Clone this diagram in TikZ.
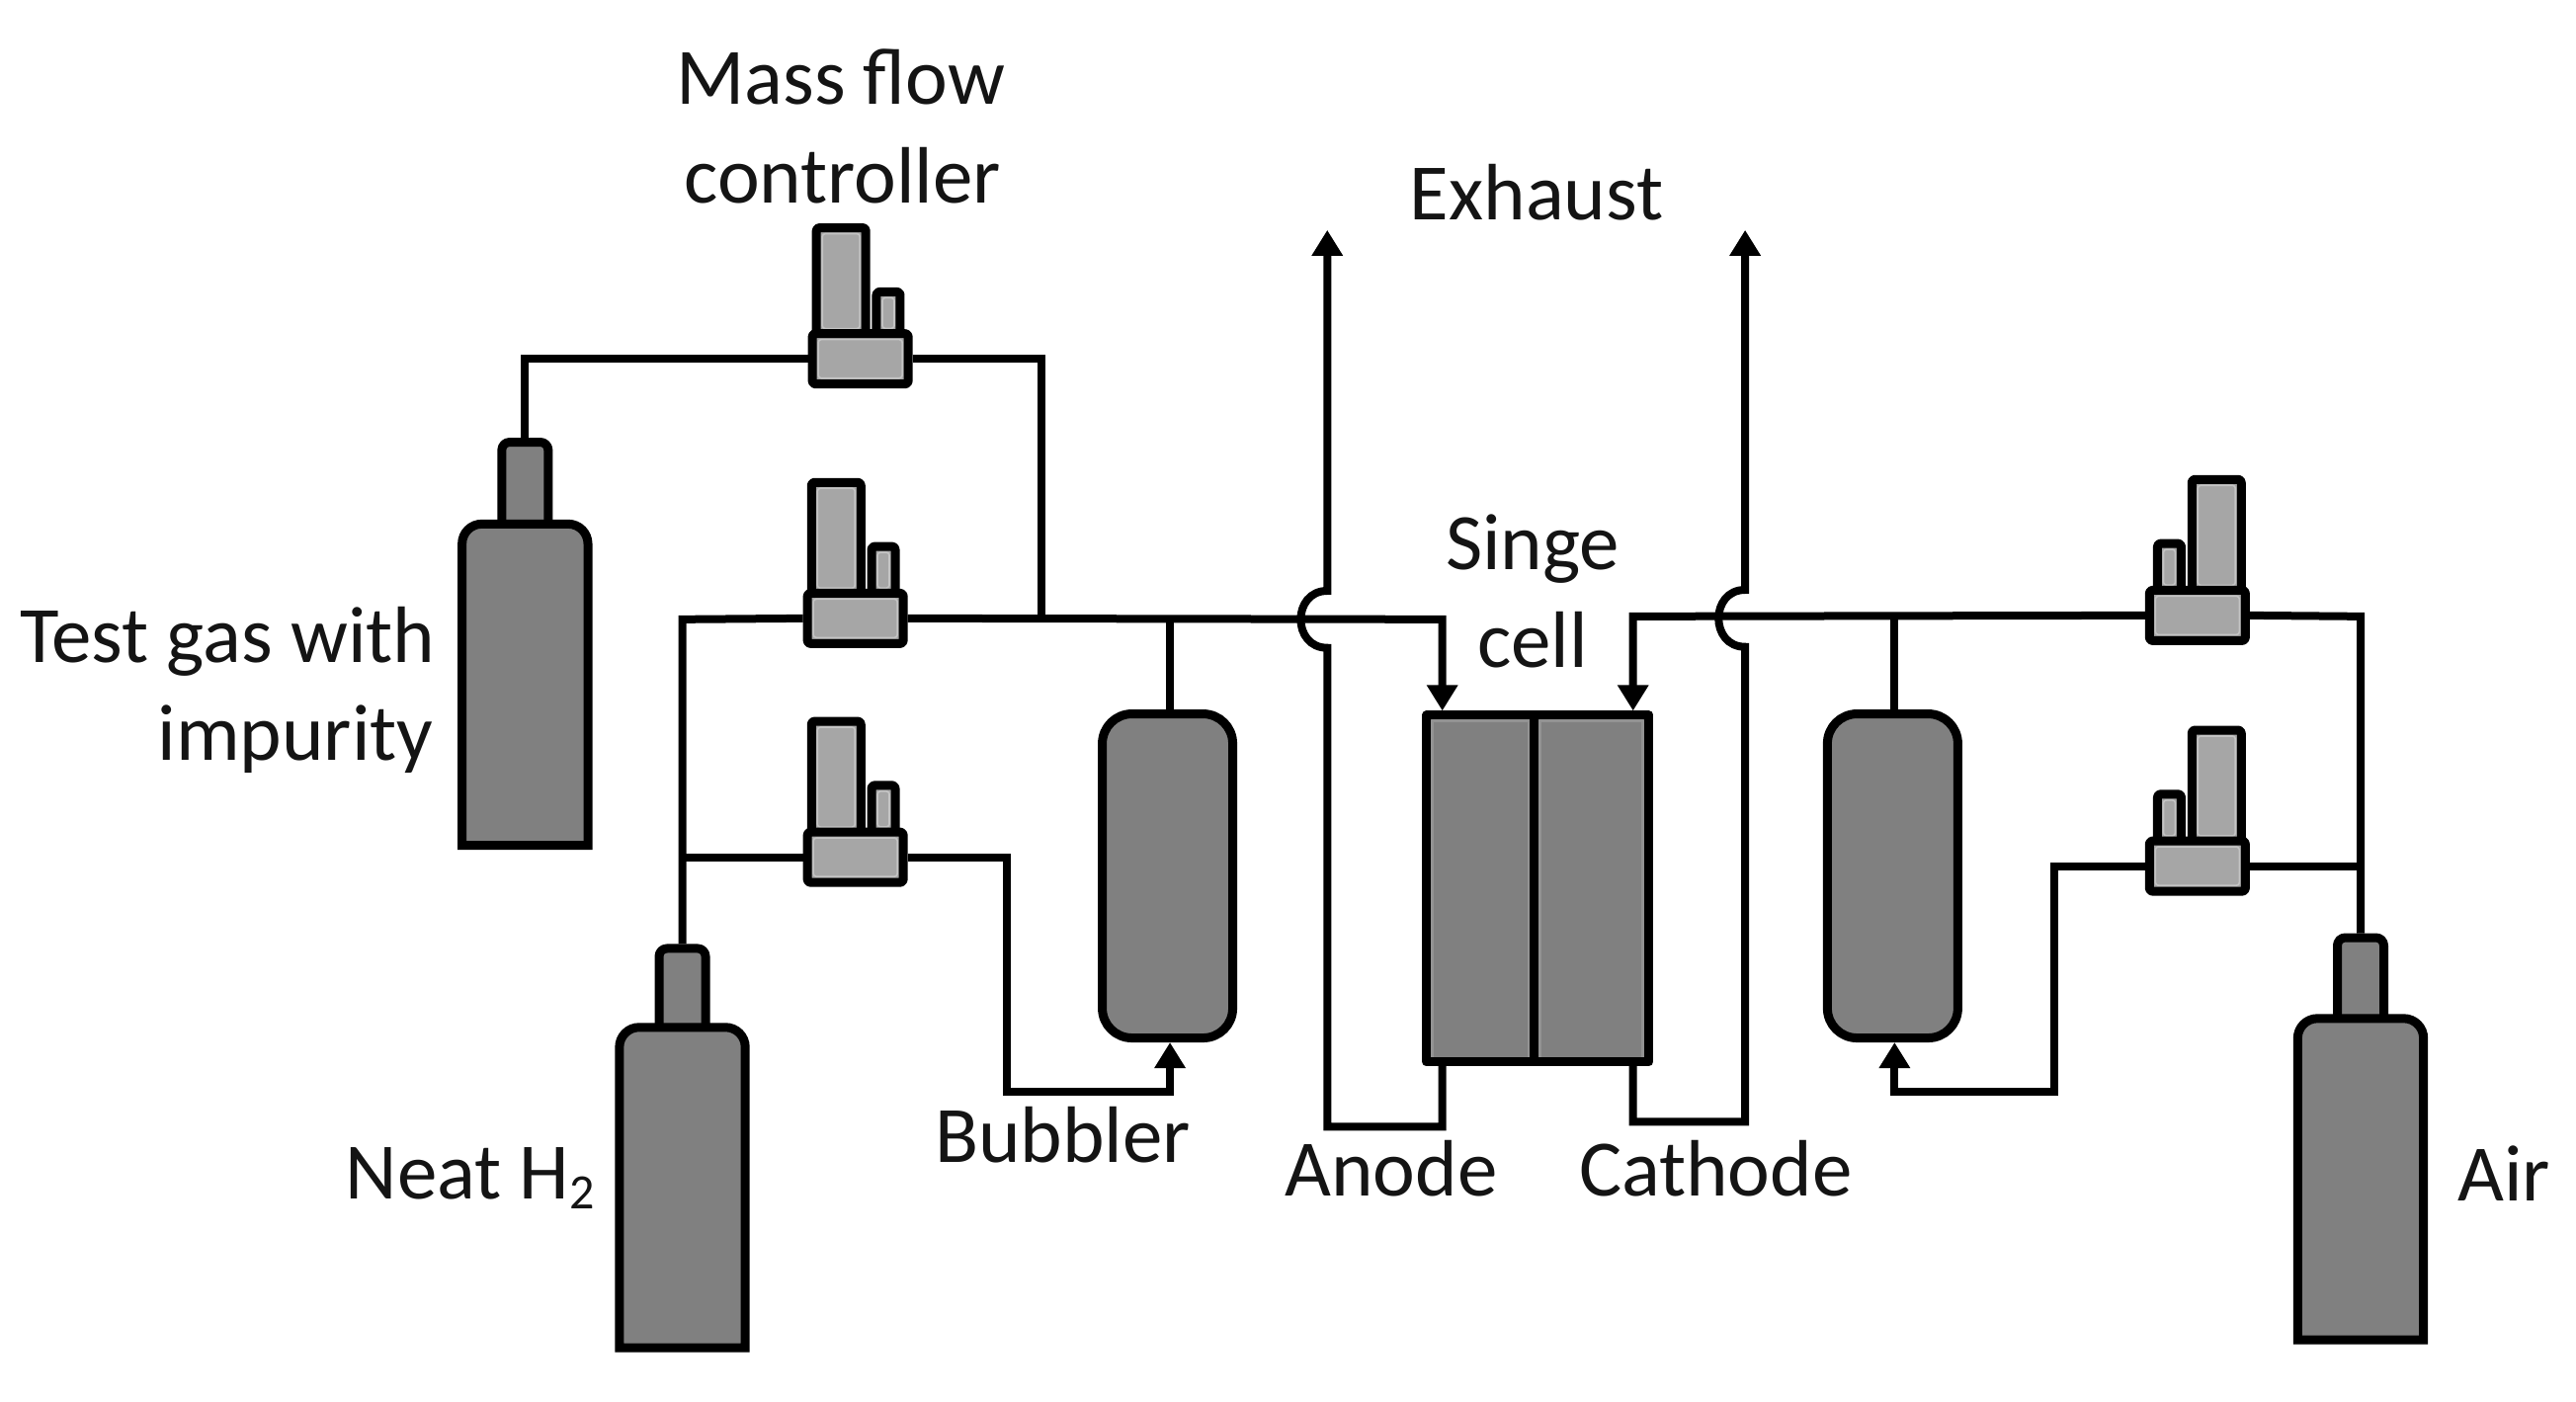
\documentclass[tikz,border=0pt]{standalone}
\usepackage{fontspec}
\setmainfont{Carlito}
\usetikzlibrary{arrows.meta,calc}
\definecolor{dk}{HTML}{808080}
\definecolor{lt}{HTML}{A6A6A6}
\definecolor{dkhi}{HTML}{939393}
\definecolor{lthi}{HTML}{C4C4C4}
\tikzset{
  x=0.995pt,y=-0.995pt,
  dev/.style={draw=black,line width=9pt,line join=round,inner sep=0pt,outer sep=4.5pt,rounded corners=3pt},
  darkdev/.style={dev,fill=dk},
  lightdev/.style={dev,fill=lt},
  glowl/.style={path picture={\draw[lthi,line width=1.6pt]
     ($(path picture bounding box.south west)+(6,-6)$) rectangle ($(path picture bounding box.north east)+(-6,6)$);}},
  glowd/.style={path picture={\draw[dkhi,line width=3pt]
     ($(path picture bounding box.south west)+(6,20)$) rectangle ($(path picture bounding box.north east)+(-6,6)$);}},
  pipe/.style={draw=black,line width=8pt,line join=miter},
  flow/.style={pipe,-{Triangle[length=26pt,width=30pt]}},
  lab/.style={inner sep=0pt,text=black!92,font=\fontsize{81}{96}\selectfont},
}
% #1 name, #2 x, #3 y, #4 side of the tall box (+1 normal, -1 mirrored), #5 extra height
\newcommand{\mfcunit}[5]{%
  \node[lightdev,glowl,minimum width=50pt,minimum height={108+#5}] (#1t) at ({#2+#4*(-19.5)},{#3-79-#5/2}) {};
  \node[lightdev,glowl,minimum width=24pt,minimum height={43+#5}] (#1s) at ({#2+#4*28.5},{#3-46.5-#5/2}) {};
  \node[lightdev,glowl,minimum width=97pt,minimum height=51pt] (#1) at (#2,#3) {};
}
% #1 name, #2 cx, #3 body top, #4 body bottom, #5 neck top
\newcommand{\bottleunit}[5]{%
  \node[darkdev,rounded corners=8pt,minimum width=47pt] (#1n) at (#2,{(#3+#5)/2+5}) [minimum height={#3-#5+10}] {};
  \draw[draw=black,fill=dk,line width=9pt,rounded corners=20pt]
    ({#2-64},#4) [sharp corners] -- ({#2-64},{#4-40}) [rounded corners=20pt] -- ({#2-64},#3) -- ({#2+64},#3) -- ({#2+64},{#4-40}) [sharp corners] -- ({#2+64},#4) -- cycle;
}
\begin{document}
\begin{tikzpicture}
\useasboundingbox (0,0) rectangle (2620.1,1426.1);
% devices
\mfcunit{mfcA}{875}{365}{1}{0}
\mfcunit{mfcB}{870}{629}{1}{5}
\mfcunit{mfcC}{870}{872}{1}{5}
\mfcunit{mfcD}{2235}{626}{-1}{5}
\mfcunit{mfcE}{2235}{881}{-1}{5}
\bottleunit{test}{534}{533}{860}{450}
\bottleunit{neat}{694}{1045}{1371}{965}
\bottleunit{air}{2401}{1036}{1363}{954}
\node[darkdev,rounded corners=30pt,minimum width=132pt,minimum height=328pt] (bubL) at (1187.5,891) {};
\node[darkdev,rounded corners=30pt,minimum width=132pt,minimum height=328pt] (bubR) at (1925,891) {};
\node[darkdev,sharp corners,glowd,minimum width=109.5pt,minimum height=351pt] (cellA) at (1506,904) {};
\node[darkdev,sharp corners,glowd,minimum width=116pt,minimum height=351pt] (cellC) at (1619,904) {};
% junction points
\coordinate (tl) at (534,365);
\coordinate (tr) at (1059,365);
\coordinate (tj) at (1059,630);
\coordinate (lj) at (694,630);
\coordinate (lb) at (694,872);
\coordinate (c1) at (1024,872);
\coordinate (c2) at (1024,1111);
\coordinate (c3) at (1190,1111);
\coordinate (bl) at (1190,630);
\coordinate (ain) at (1467,630);
\coordinate (aint) at (1467,723);
\coordinate (cin) at (1661,627);
\coordinate (cint) at (1661,723);
\coordinate (jrA) at (1350,601);
\coordinate (jrB) at (1350,659);
\coordinate (exA) at (1350,234);
\coordinate (anB) at (1350,1146);
\coordinate (anC) at (1467,1146);
\coordinate (anD) at (1467,1082);
\coordinate (jcA) at (1775,600);
\coordinate (jcB) at (1775,658);
\coordinate (exC) at (1775,234);
\coordinate (caB) at (1775,1141);
\coordinate (caC) at (1661,1141);
\coordinate (caD) at (1661,1082);
\coordinate (rt) at (1927,627);
\coordinate (rbb) at (1927,1111);
\coordinate (e1) at (2089,1111);
\coordinate (e2) at (2089,881);
\coordinate (ar) at (2401,627);
\coordinate (arb) at (2401,881);
% connectors
\draw[pipe] (testn.north) -- (tl) -- (mfcA.west);
\draw[pipe] (mfcA.east) -- (tr) -- (tj);
\draw[pipe] (neatn.north) -- (lj) -- (mfcB.west);
\draw[pipe] (lb) -- (mfcC.west);
\draw[flow] (mfcC.east) -- (c1) -- (c2) -- (c3) -- (bubL.south -| c3);
\draw[pipe] (bl) -- (bubL.north -| bl);
\draw[flow] (mfcB.east) -- (ain) -- (aint);
\draw[flow] (mfcD.west) -- (cin) -- (cint);
\draw[pipe] (rt) -- (bubR.north -| rt);
\draw[flow] (mfcE.west) -- (e2) -- (e1) -- (rbb) -- (bubR.south -| rbb);
\draw[pipe] (mfcD.east) -- (ar) -- (airn.north);
\draw[pipe] (mfcE.east) -- (arb);
\draw[flow] (anD) -- (anC) -- (anB) -- (jrB) .. controls (1314,659) and (1314,601) .. (jrA) -- (exA);
\draw[flow] (caD) -- (caC) -- (caB) -- (jcB) .. controls (1739,658) and (1739,600) .. (jcA) -- (exC);
% labels
\node[lab] (l1) at (855,78) {Mass flow};
\node[lab] (l2) at (857,179) {controller};
\node[lab] (l3) at (1563,196) {Exhaust};
\node[lab] (l4) at (1559,558) {Singe};
\node[lab] (l5) at (1559,651) {cell};
\node[lab,anchor=east] (l6) at (443,653) {Test gas with};
\node[lab,anchor=east] (l7) at (441,752) {impurity};
\node[lab,anchor=east] (l8) at (605,1198) {Neat H\raisebox{-10pt}{\fontsize{50}{50}\selectfont 2}};
\node[lab] (l9) at (1081,1154) {Bubbler};
\node[lab] (l10) at (1415,1189) {Anode};
\node[lab] (l11) at (1745,1189) {Cathode};
\node[lab] (l12) at (2547,1194) {Air};
\end{tikzpicture}
\end{document}
